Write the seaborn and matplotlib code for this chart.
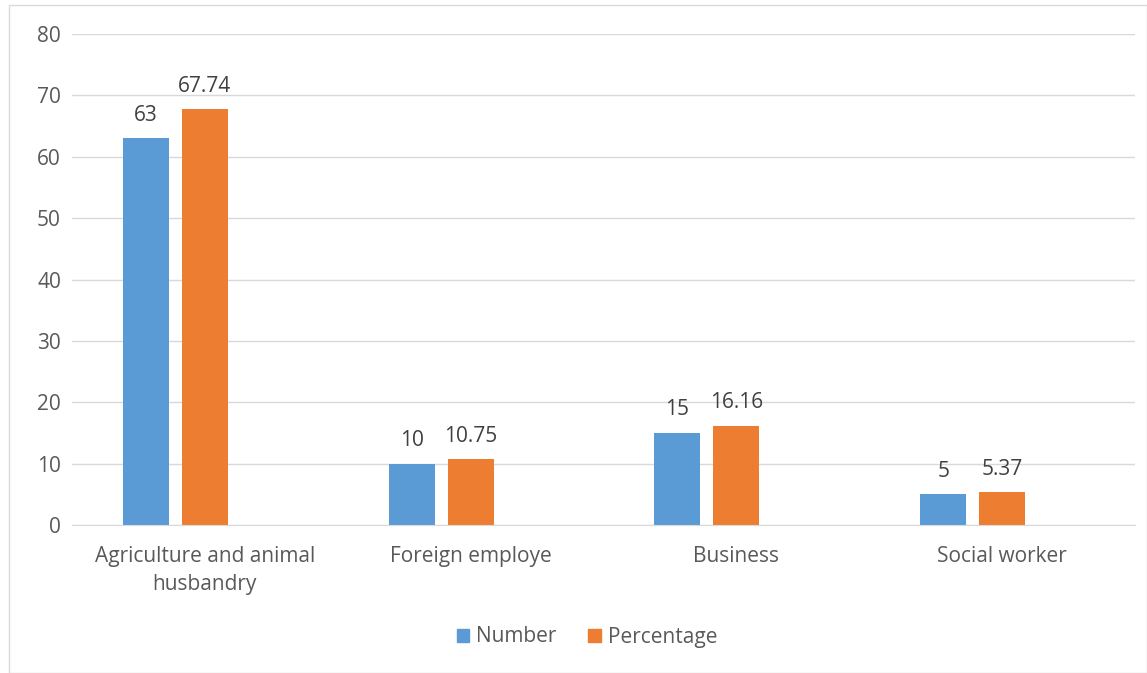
import matplotlib
matplotlib.use("Agg")
import matplotlib.pyplot as plt
import matplotlib.patches as mpatches
import seaborn as sns
import pandas as pd

categories = ["Agriculture and animal\nhusbandry", "Foreign employe", "Business", "Social worker"]
number = [63, 10, 15, 5]
percentage = [67.74, 10.75, 16.16, 5.37]
series_names = ["Number", "Percentage"]
y_ticks = [0, 10, 20, 30, 40, 50, 60, 70, 80]

blue = "#5B9BD5"
orange = "#ED7D31"
text_col = "#595959"

df = pd.DataFrame({
    "category": categories * 2,
    "series": [series_names[0]] * len(categories) + [series_names[1]] * len(categories),
    "value": number + percentage,
})

sns.set_style("white")
plt.rcParams["font.family"] = ["Open Sans", "DejaVu Sans"]
fs = 15

fig = plt.figure(figsize=(11.47, 6.73), dpi=100)
ax = fig.add_axes([72 / 1147, 1 - 525 / 673, (1135 - 72) / 1147, (525 - 34) / 673])

# third (empty) slot keeps the Excel-style group offset
hue_order = series_names + ["(blank)"]
palette = {series_names[0]: blue, series_names[1]: orange, "(blank)": "white"}
sns.barplot(data=df, x="category", y="value", hue="series", hue_order=hue_order,
            order=categories, palette=palette, width=0.666, gap=0.22,
            saturation=1, legend=False, linewidth=0, ax=ax)

for cont in ax.containers:
    labels = [f"{v:g}" for v in cont.datavalues]
    ax.bar_label(cont, labels=labels, padding=9, fontsize=fs, color="#404040")

ax.set_ylim(0, 80)
ax.set_yticks(y_ticks)
ax.set_xlim(-0.5, len(categories) - 0.5)
ax.grid(axis="y", color="#D9D9D9", linewidth=1)
ax.set_axisbelow(True)
for s in ["top", "right", "left"]:
    ax.spines[s].set_visible(False)
ax.spines["bottom"].set_color("#D9D9D9")
ax.set_xlabel("")
ax.set_ylabel("")
ax.tick_params(axis="y", length=0, pad=8, labelsize=fs, labelcolor=text_col)
ax.tick_params(axis="x", length=0, pad=15, labelsize=fs, labelcolor=text_col)
for t in ax.get_xticklabels():
    t.set_linespacing(1.45)

handles = [mpatches.Patch(color=blue, label=series_names[0]),
           mpatches.Patch(color=orange, label=series_names[1])]
fig.legend(handles=handles, loc="center", bbox_to_anchor=(587 / 1147, 1 - 637 / 673),
           ncol=2, frameon=False, fontsize=fs, handlelength=0.6, handleheight=0.6,
           handletextpad=0.35, columnspacing=1.5, labelcolor=text_col)

fig.patches.append(mpatches.Rectangle((9 / 1147, 0), 1 - 9 / 1147 - 0.5 / 1147, 1 - 5 / 673,
                                      transform=fig.transFigure, fill=False,
                                      edgecolor="#D9D9D9", linewidth=1))

fig.savefig("out.png", dpi=100)
